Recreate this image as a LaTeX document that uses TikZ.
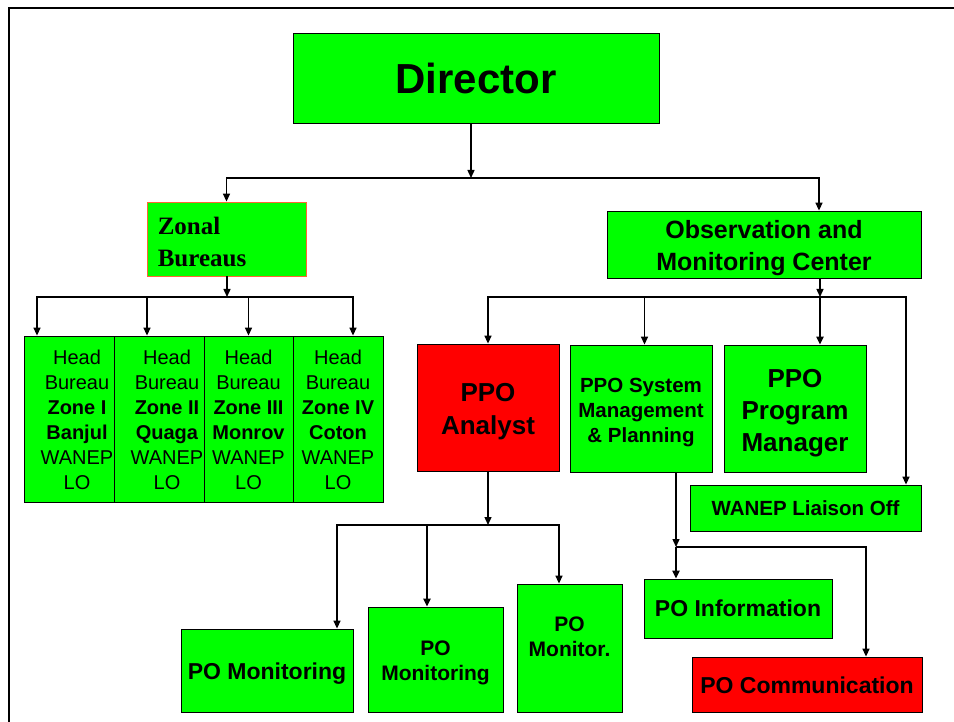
\documentclass[tikz,border=0pt]{standalone}
\usepackage{fontspec}
\setmainfont{Liberation Sans}
\newfontfamily\serifbold{Liberation Serif}
\usetikzlibrary{arrows.meta}
\definecolor{boxgreen}{RGB}{0,255,0}
\definecolor{boxred}{RGB}{255,0,0}
\definecolor{zborder}{RGB}{255,102,51}
\tikzset{
  box/.style={draw=black, line width=0.8pt, fill=boxgreen, inner sep=0pt},
  redbox/.style={box, fill=boxred},
  conn/.style={line width=1.4pt, -{Triangle[length=8pt,width=7pt]}},
  thickconn/.style={conn, line width=2pt},
  fs/.style n args={2}{inner sep=0pt, align=center, font=\fontsize{#1}{#2}\selectfont\bfseries},
  fr/.style n args={2}{inner sep=0pt, align=center, font=\fontsize{#1}{#2}\selectfont},
}
\begin{document}
\begin{tikzpicture}[x=1pt,y=-1pt]
\useasboundingbox (0,0) rectangle (954,722);
\fill[white] (0,0) rectangle (954,722);
\draw[line width=2pt] (9,722) -- (9,8) -- (954,8);

% boxes
\node[box, minimum width=366, minimum height=90] (dir) at (476,78) {};
\node[fs={42}{48}] (dirt) at (dir.center) {Director};

\node[box, draw=zborder, minimum width=159, minimum height=74] (zonal) at (226.5,239) {};
\node[inner sep=0pt, align=left, anchor=west, font=\fontsize{25}{32}\selectfont\serifbold\bfseries] (zonalt) at ([xshift=11,yshift=-3]zonal.west) {Zonal\\Bureaus};

\node[box, minimum width=90, minimum height=166] (h1) at (69,419) {};
\node[fr={20}{25}] (t1) at (77,420) {Head\\Bureau\\\textbf{Zone I}\\\textbf{Banjul}\\WANEP\\LO};
\node[box, minimum width=90, minimum height=166] (h2) at (159,419) {};
\node[fr={20}{25}] (t2) at (167,420) {Head\\Bureau\\\textbf{Zone II}\\\textbf{Quaga}\\WANEP\\LO};
\node[box, minimum width=89, minimum height=166] (h3) at (248.5,419) {};
\node[fr={20}{25}] (t3) at (248.5,420) {Head\\Bureau\\\textbf{Zone III}\\\textbf{Monrov}\\WANEP\\LO};
\node[box, minimum width=90, minimum height=166] (h4) at (338,419) {};
\node[fr={20}{25}] (t4) at (338,420) {Head\\Bureau\\\textbf{Zone IV}\\\textbf{Coton}\\WANEP\\LO};

\node[box, minimum width=314, minimum height=67] (omc) at (764,244.5) {};
\node[fs={25}{32}] (omct) at ([yshift=-4]omc.center) {Observation and\\Monitoring Center};
\node[redbox, minimum width=142, minimum height=127] (ana) at (488,407.5) {};
\node[fs={26}{33}] (anat) at ([yshift=-4]ana.center) {PPO\\Analyst};
\node[box, minimum width=142, minimum height=127] (sys) at (641,408.5) {};
\node[fs={20.5}{25}] (syst) at ([yshift=-4]sys.center) {PPO System\\Management\\\& Planning};
\node[box, minimum width=142, minimum height=127] (ppm) at (795,408.5) {};
\node[fs={26}{32}] (ppmt) at ([yshift=-5]ppm.center) {PPO\\Program\\Manager};
\node[box, minimum width=231, minimum height=46] (wlo) at (805.5,508) {};
\node[fs={20.5}{25}] (wlot) at (wlo.center) {WANEP Liaison Off};

\node[box, minimum width=172, minimum height=83] (pom1) at (267,670.5) {};
\node[fs={23}{28}] (pom1t) at ([yshift=-3]pom1.center) {PO Monitoring};
\node[box, minimum width=135, minimum height=105] (pom2) at (435.5,659.5) {};
\node[fs={21}{25}] (pom2t) at ([yshift=-3]pom2.center) {PO\\Monitoring};
\node[box, minimum width=105, minimum height=128] (pom3) at (569.5,648) {};
\node[fs={21}{25}] (pom3t) at ([yshift=11]pom3.center) {PO\\Monitor.};
\node[box, minimum width=188, minimum height=59] (poi) at (738,608.5) {};
\node[fs={23}{28}] (poit) at (poi.center) {PO Information};
\node[redbox, minimum width=230, minimum height=55] (poc) at (807,684.5) {};
\node[fs={23}{28}] (poct) at ([yshift=-0.5]poc.center) {PO Communication};

% junctions
\coordinate (j1) at (471,178);
\coordinate (j2) at (227,297);
\coordinate (j3) at (820,297);
\coordinate (j4) at (488,525);
\coordinate (j5) at (676,547);

% connectors
\draw[conn] (dir.south -| j1) -- (j1);
\draw[conn] (j1) -| (zonal.north);
\draw[conn] (j1) -| ([xshift=55]omc.north);

\draw[conn] (zonal.south -| j2) -- (j2);
\draw[conn] (j2) -| ([xshift=-32]h1.north);
\draw[conn] (j2) -| ([xshift=-12]h2.north);
\draw[conn] (j2) -| (h3.north);
\draw[conn] (j2) -| ([xshift=15]h4.north);

\draw[conn] (omc.south -| j3) -- (j3);
\draw[conn] (j3) -| (ana.north);
\draw[conn] (j3) -| ([xshift=3.5]sys.north);
\draw[thickconn] (j3) -- (ppm.north -| j3);
\draw[conn] (j3) -| ([xshift=100.5]wlo.north);

\draw[conn] (ana.south -| j4) -- (j4);
\draw[conn] (j4) -| ([xshift=70]pom1.north);
\draw[thickconn] ([xshift=-8.5,yshift=1]pom2.north |- j4) -- ([xshift=-8.5]pom2.north);
\draw[conn] (j4) -| ([xshift=-10.5]pom3.north);

\draw[conn] (sys.south -| j5) -- (j5);
\draw[thickconn] (j5) -- (poi.north -| j5);
\draw[conn] (j5) -| ([xshift=59]poc.north);
\end{tikzpicture}
\end{document}
